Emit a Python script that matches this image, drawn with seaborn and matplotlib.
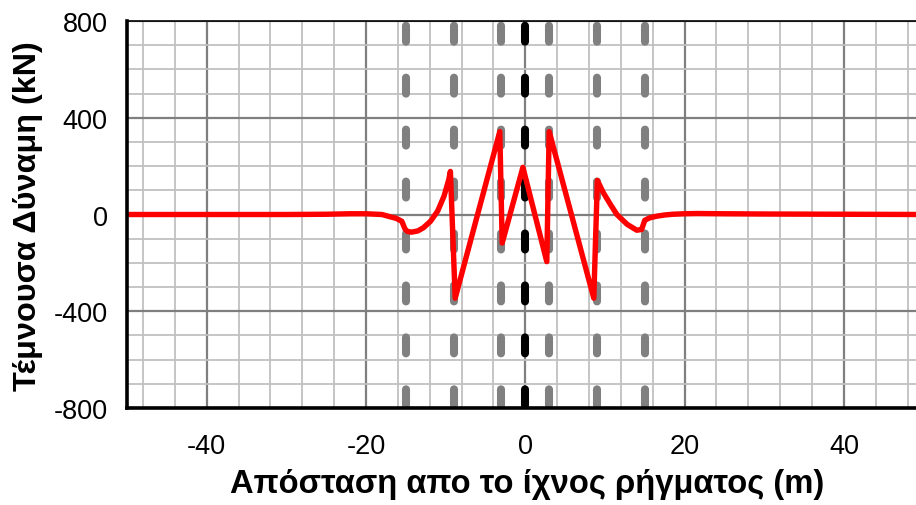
import numpy as np
import pandas as pd
import matplotlib
matplotlib.use("Agg")
import matplotlib.pyplot as plt
import seaborn as sns
from matplotlib.ticker import MultipleLocator

# ---- data ----
distance_m = [-50, -40, -30, -25, -22, -20, -18, -16.9, -16.2, -15.5, -15.1, -14.8, -14.3,
              -13.5, -12.8, -11.9, -11.0, -10.2, -9.6, -9.4, -8.8, -3.2, -2.9, -0.3,
              2.7, 3.0, 8.6, 9.05, 9.8, 10.7, 11.5, 12.8, 14.0, 14.6, 15.0, 15.6,
              16.5, 17.5, 18.5, 20, 21.5, 25, 30, 40, 50]
shear_kN = [0, 0, 0, 1, 3, 3, 0, -10, -16, -28, -60, -70, -73,
            -68, -55, -28, 14, 76, 145, 178, -346, 343, -118, 195,
            -195, 343, -346, 141, 90, 41, 0, -41, -65, -62, -24, -14,
            -7, -2, 1, 3, 4, 3, 2, 1, 0]
gray_lines_x = [-15, -9, -3, 3, 9, 15]
black_line_x = [0]
x_ticks = [-40, -20, 0, 20, 40]
y_ticks = [-800, -400, 0, 400, 800]

df = pd.DataFrame({"x": distance_m, "V": shear_kN})

sns.set_style("white")
plt.rcParams['font.family'] = ['Liberation Sans', 'DejaVu Sans']
plt.rcParams['lines.scale_dashes'] = False

fig = plt.figure(figsize=(9.16, 5.06), dpi=100)
AX_L, AX_B, AX_T = 127, 409, 22
ax = fig.add_axes([AX_L/916, 1-AX_B/506, 1-AX_L/916, (AX_B-AX_T)/506])
W, H = 916-AX_L, AX_B-AX_T

ax.set_xlim(-50, 49.05)
ax.set_ylim(-800, 800)

# grid
ax.xaxis.set_major_locator(MultipleLocator(20))
ax.xaxis.set_minor_locator(MultipleLocator(4))
ax.yaxis.set_major_locator(MultipleLocator(400))
ax.yaxis.set_minor_locator(MultipleLocator(100))
ax.grid(which='minor', color='#c0c0c0', linewidth=1.3, zorder=0)
ax.grid(which='major', color='#7f7f7f', linewidth=1.6, zorder=0)
ax.set_axisbelow(True)

# dashed vertical guides
dash = (34.0, (11.5, 25.9))
for xv in gray_lines_x:
    ax.plot([xv, xv], [800, -800], color='#808080', lw=5.8, linestyle=dash,
            dash_capstyle='round', zorder=2)
for xv in black_line_x:
    ax.plot([xv, xv], [800, -800], color='#000000', lw=5.8, linestyle=dash,
            dash_capstyle='round', zorder=2)

sns.lineplot(data=df, x="x", y="V", ax=ax, color='#ff0000', linewidth=3.9,
             zorder=3, sort=False, estimator=None)

ax.set_xticks(x_ticks)
ax.set_yticks(y_ticks)
ax.set_xticklabels([str(v) for v in x_ticks])
ax.set_yticklabels([str(v) for v in y_ticks])

ax.tick_params(axis='both', which='both', direction='in', colors='#333333',
               labelcolor='black', labelsize=19.5)
ax.tick_params(axis='y', which='major', length=15, width=2.2, pad=14)
ax.tick_params(axis='y', which='minor', length=10, width=2.2)
ax.tick_params(axis='x', which='major', length=14, width=2.2, pad=18)
ax.tick_params(axis='x', which='minor', length=8.5, width=2.2)

for s in ['left', 'bottom']:
    ax.spines[s].set_color('black')
    ax.spines[s].set_linewidth(2.6)
    ax.spines[s].set_zorder(5)
ax.spines['top'].set_color('black')
ax.spines['top'].set_linewidth(1.2)
ax.spines['right'].set_visible(False)

ax.set_xlabel("Απόσταση απο το ίχνος ρήγματος (m)", fontsize=23.6,
              fontweight='bold', color='black')
ax.set_ylabel("Τέμνουσα Δύναμη (kN)", fontsize=23.3, fontweight='bold',
              color='black')
ax.xaxis.set_label_coords((527-AX_L)/W, -(493-AX_B)/H)
ax.xaxis.label.set_va('baseline')
ax.yaxis.set_label_coords(-(AX_L-28)/W, (AX_B-216)/H)
ax.yaxis.label.set_va('center')

fig.savefig("out.png", dpi=100)
